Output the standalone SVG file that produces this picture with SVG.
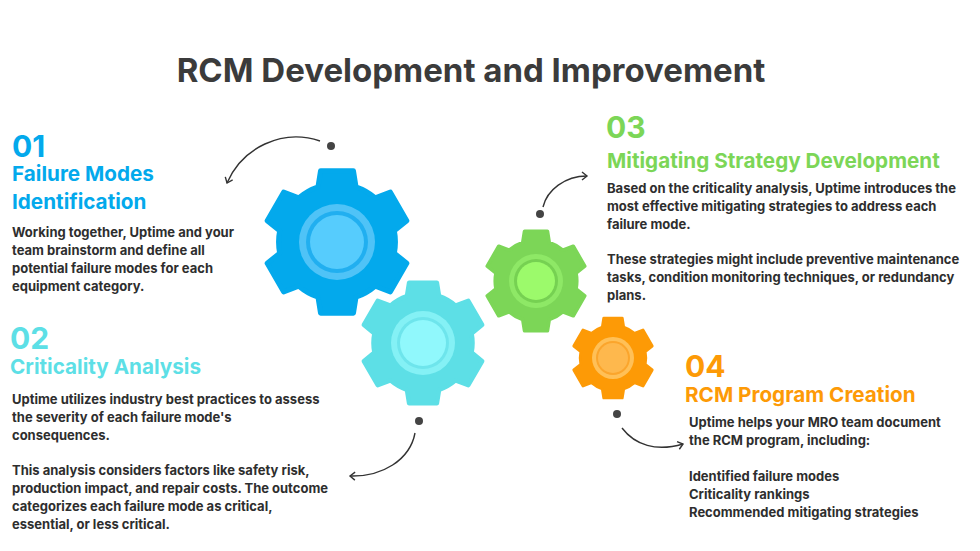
<svg xmlns="http://www.w3.org/2000/svg" width="980" height="551" viewBox="0 0 980 551">
<style>
text{font-family:Inter,"Liberation Sans",sans-serif;font-weight:700}
.t{font-size:33px;fill:#3b3b3b}
.n{font-size:30px}
.h{font-size:20.7px}
.b{font-size:13px;fill:#2e2e2e}
.c{fill:none;stroke:#333;stroke-width:1.4}
.d{fill:#444}
</style>
<defs>
<marker id="ah" markerWidth="10" markerHeight="10" refX="6" refY="5" orient="auto" markerUnits="userSpaceOnUse">
<path d="M1,1 L6,5 L1,9" fill="none" stroke="#333" stroke-width="1.4"/>
</marker>
<path id="gear" stroke-linejoin="round" stroke-width="0.07" d="M-0.26,-0.756 L-0.225,-0.974 L0.225,-0.974 L0.26,-0.756 A0.8,0.8 0 0 1 0.525,-0.604 L0.731,-0.682 L0.956,-0.292 L0.785,-0.153 A0.8,0.8 0 0 1 0.785,0.153 L0.956,0.292 L0.731,0.682 L0.525,0.604 A0.8,0.8 0 0 1 0.26,0.756 L0.225,0.974 L-0.225,0.974 L-0.26,0.756 A0.8,0.8 0 0 1 -0.525,0.604 L-0.731,0.682 L-0.956,0.292 L-0.785,0.153 A0.8,0.8 0 0 1 -0.785,-0.153 L-0.956,-0.292 L-0.731,-0.682 L-0.525,-0.604 A0.8,0.8 0 0 1 -0.26,-0.756 Z"/>
</defs>
<rect width="980" height="551" fill="#fff"/>
<text class="t" x="471" y="82" text-anchor="middle">RCM Development and Improvement</text>

<g id="gear1">
<use href="#gear" transform="translate(337,242) scale(73)" fill="#03a9ec" stroke="#03a9ec"/>
<circle cx="337" cy="242" r="38" fill="#4fc3f7"/>
<circle cx="337" cy="242" r="31" fill="#21aff0"/>
<circle cx="337" cy="242" r="27" fill="#56ccfd"/>
</g>
<g id="gear2">
<use href="#gear" transform="translate(423,343) scale(62)" fill="#5ddfe6" stroke="#5ddfe6"/>
<circle cx="423" cy="343" r="32" fill="#84f1f5"/>
<circle cx="423" cy="343" r="26" fill="#6ee5ec"/>
<circle cx="423" cy="343" r="23" fill="#90f8fc"/>
</g>
<g id="gear3">
<use href="#gear" transform="translate(536,281) scale(51)" fill="#7cd657" stroke="#7cd657"/>
<circle cx="536" cy="281" r="27" fill="#8ee866"/>
<circle cx="536" cy="281" r="22" fill="#76d152"/>
<circle cx="536" cy="281" r="19" fill="#9cfa6b"/>
</g>
<g id="gear4">
<use href="#gear" transform="translate(613,358) scale(41)" fill="#fd9a06" stroke="#fd9a06"/>
<circle cx="613" cy="358" r="21" fill="#ffc057"/>
<circle cx="613" cy="358" r="17" fill="#fba52c"/>
<circle cx="613" cy="358" r="15" fill="#feb84d"/>
</g>

<g id="connectors">
<path class="c" d="M320,141 C282,128 242,148 227,183" marker-end="url(#ah)"/>
<circle class="d" cx="331" cy="146" r="4"/>
<path class="c" d="M543,207 C547,190 565,176 587,176" marker-end="url(#ah)"/>
<circle class="d" cx="540" cy="214" r="4"/>
<path class="c" d="M415,433 C410,460 382,477 350,476" marker-end="url(#ah)"/>
<circle class="d" cx="419" cy="421" r="4"/>
<path class="c" d="M622,428 C635,445 656,452 683,444" marker-end="url(#ah)"/>
<circle class="d" cx="617" cy="414" r="4"/>
</g>

<g id="step1">
<text class="n" x="12" y="157" fill="#03a9ec">01</text>
<text class="h" x="12" y="181" fill="#03a9ec">Failure Modes</text>
<text class="h" x="12" y="209" fill="#03a9ec">Identification</text>
<text class="b" x="12" y="237">Working together, Uptime and your</text>
<text class="b" x="12" y="255">team brainstorm and define all</text>
<text class="b" x="12" y="273">potential failure modes for each</text>
<text class="b" x="12" y="291">equipment category.</text>
</g>
<g id="step2">
<text class="n" x="10" y="349" fill="#5ddfe6">02</text>
<text class="h" x="10" y="374" fill="#5ddfe6">Criticality Analysis</text>
<text class="b" x="12" y="404">Uptime utilizes industry best practices to assess</text>
<text class="b" x="12" y="422">the severity of each failure mode's</text>
<text class="b" x="12" y="440">consequences.</text>
<text class="b" x="12" y="475">This analysis considers factors like safety risk,</text>
<text class="b" x="12" y="493">production impact, and repair costs. The outcome</text>
<text class="b" x="12" y="511">categorizes each failure mode as critical,</text>
<text class="b" x="12" y="529">essential, or less critical.</text>
</g>
<g id="step3">
<text class="n" x="606" y="138" fill="#7cd657">03</text>
<text class="h" x="607" y="168" fill="#7cd657">Mitigating Strategy Development</text>
<text class="b" x="607" y="193">Based on the criticality analysis, Uptime introduces the</text>
<text class="b" x="607" y="211">most effective mitigating strategies to address each</text>
<text class="b" x="607" y="229">failure mode.</text>
<text class="b" x="607" y="264">These strategies might include preventive maintenance</text>
<text class="b" x="607" y="282">tasks, condition monitoring techniques, or redundancy</text>
<text class="b" x="607" y="300">plans.</text>
</g>
<g id="step4">
<text class="n" x="685" y="377" fill="#fd9a06">04</text>
<text class="h" x="685" y="402" fill="#fd9a06">RCM Program Creation</text>
<text class="b" x="689" y="427">Uptime helps your MRO team document</text>
<text class="b" x="689" y="445">the RCM program, including:</text>
<text class="b" x="689" y="481">Identified failure modes</text>
<text class="b" x="689" y="499">Criticality rankings</text>
<text class="b" x="689" y="517">Recommended mitigating strategies</text>
</g>
</svg>
